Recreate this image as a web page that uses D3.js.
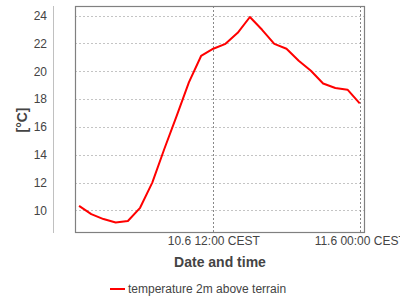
<!DOCTYPE html>
<html><head><meta charset="utf-8">
<script src="https://cdn.jsdelivr.net/npm/d3@7"></script>
<style>body{margin:0;background:#fff}svg{display:block;font-family:"Liberation Sans",Arial,sans-serif}</style>
</head><body><svg id="c" width="400" height="300"></svg>
<script>
const times = ["2024-06-10T01:00","2024-06-10T02:00","2024-06-10T03:00","2024-06-10T04:00","2024-06-10T05:00","2024-06-10T06:00",
"2024-06-10T07:00","2024-06-10T08:00","2024-06-10T09:00","2024-06-10T10:00","2024-06-10T11:00","2024-06-10T12:00",
"2024-06-10T13:00","2024-06-10T14:00","2024-06-10T15:00","2024-06-10T16:00","2024-06-10T17:00","2024-06-10T18:00",
"2024-06-10T19:00","2024-06-10T20:00","2024-06-10T21:00","2024-06-10T22:00","2024-06-10T23:00","2024-06-11T00:00"];
const temps = [10.33,9.74,9.38,9.14,9.24,10.19,12.0,14.45,16.8,19.2,21.1,21.62,21.97,22.76,23.9,22.98,21.97,21.62,20.76,20.04,19.12,18.8,18.68,17.69];
const xTickTimes = ["2024-06-10T12:00","2024-06-11T00:00"];
const yTicks = [10,12,14,16,18,20,22,24];
const seriesName = "temperature 2m above terrain";
const xTitle = "Date and time", yTitle = "[°C]";

const parse = d3.timeParse("%Y-%m-%dT%H:%M");
const data = times.map((t,i)=>({t:parse(t), v:temps[i]}));
const svg = d3.select("#c");
const L=75, R=365, T=6, B=233;
const x = d3.scaleTime().domain([parse("2024-06-10T00:40"), parse("2024-06-11T00:26")]).range([L,R]);
const y = d3.scaleLinear().domain([8.38,24.69]).range([B,T]);

// grid
svg.append("g").selectAll("line").data(yTicks).join("line")
  .attr("x1",L).attr("x2",R).attr("y1",d=>Math.round(y(d))+0.5).attr("y2",d=>Math.round(y(d))+0.5)
  .attr("stroke","#c4c4c4").attr("stroke-dasharray","2,2");
const xt = xTickTimes.map(parse);
svg.append("g").selectAll("line").data(xt).join("line")
  .attr("y1",T).attr("y2",B).attr("x1",d=>Math.round(x(d))+0.5).attr("x2",d=>Math.round(x(d))+0.5)
  .attr("stroke","#888").attr("stroke-dasharray","2,2");

// box
svg.append("rect").attr("x",L+0.5).attr("y",T+0.5).attr("width",R-L-1).attr("height",B-T-1)
  .attr("fill","none").attr("stroke","#808080").attr("stroke-width",1.2);

// y axis line
svg.append("line").attr("x1",53.5).attr("x2",53.5).attr("y1",T).attr("y2",B).attr("stroke","#c0c0c0");

// y ticks
const yAxis = d3.axisLeft(y).tickValues(yTicks).tickSize(0).tickPadding(0);
const gy = svg.append("g").attr("transform","translate(47,0)").call(yAxis);
gy.select(".domain").remove();
gy.selectAll("text").attr("font-size",12).attr("fill","#444").attr("font-family","Liberation Sans,Arial,sans-serif");

// x ticks
const xAxis = d3.axisBottom(x).tickValues(xt).tickSize(0).tickPadding(0)
  .tickFormat(d=>d3.timeFormat("%-d.%-m %H:%M")(d)+" CEST");
const gx = svg.append("g").attr("transform","translate(0,236)").call(xAxis);
gx.select(".domain").remove();
gx.selectAll("text").attr("font-size",12).attr("fill","#444").attr("font-family","Liberation Sans,Arial,sans-serif");

// line
svg.append("path").datum(data).attr("fill","none").attr("stroke","#ff0000").attr("stroke-width",2)
  .attr("stroke-linejoin","round")
  .attr("d", d3.line().x(d=>x(d.t)).y(d=>y(d.v)));

// titles
svg.append("text").attr("x",220).attr("y",267).attr("text-anchor","middle")
  .attr("font-size",14).attr("font-weight","bold").attr("fill","#444").text(xTitle);
svg.append("text").attr("transform","translate(27,120) rotate(-90)").attr("text-anchor","middle")
  .attr("font-size",14).attr("font-weight","bold").attr("fill","#444").text(yTitle);

// legend
svg.append("line").attr("x1",110).attr("x2",125).attr("y1",289).attr("y2",289).attr("stroke","#ff0000").attr("stroke-width",2);
svg.append("text").attr("x",128).attr("y",293).attr("font-size",12).attr("fill","#444").text(seriesName);
</script></body></html>
